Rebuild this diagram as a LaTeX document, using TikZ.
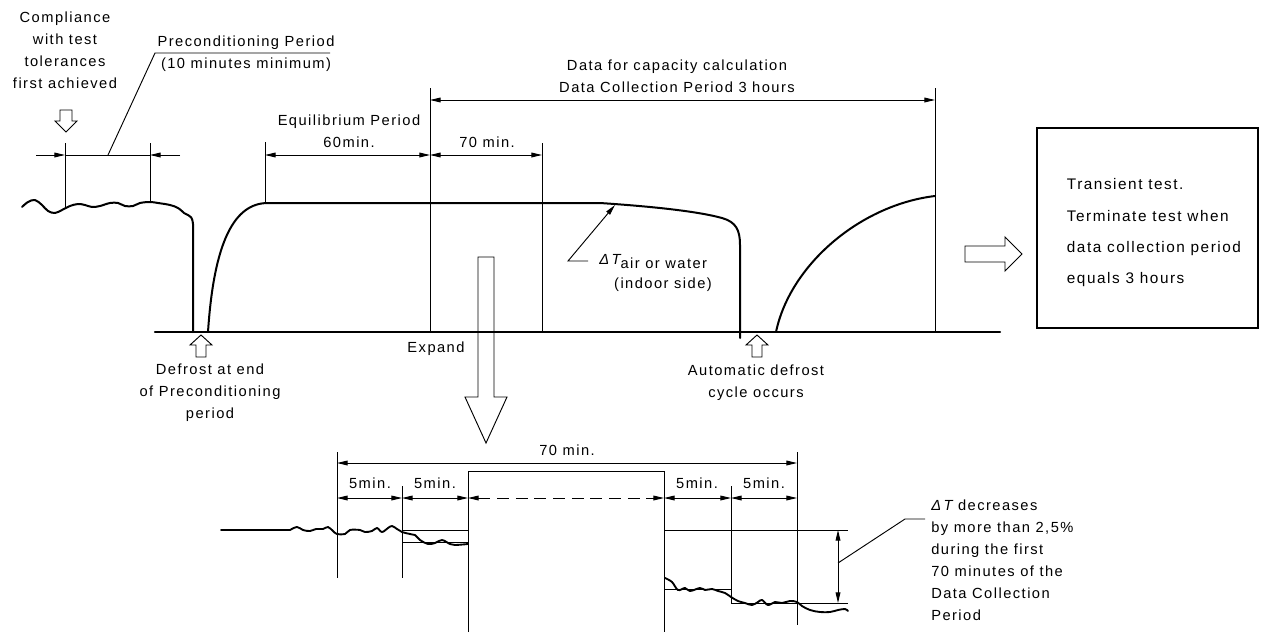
\documentclass[tikz,border=0pt]{standalone}
\usepackage{fontspec}
\setmainfont{Liberation Sans}[LetterSpace=10]
\usetikzlibrary{arrows.meta,calc,positioning}
\tikzset{
  axisline/.style={line width=1.6pt, line cap=round},
  trace/.style={line width=1.5pt, line cap=round, line join=round},
  fine/.style={line width=0.7pt},
  dim/.style={fine, {Triangle[length=8pt,width=3.6pt]}-{Triangle[length=8pt,width=3.6pt]}},
  dimend/.style={fine, -{Triangle[length=8pt,width=3.6pt]}},
  hollow/.style={line width=0.7pt, line join=miter},
  tnote/.style={font=\fontsize{11pt}{16.5pt}\selectfont, align=center, inner sep=0pt},
  boxtext/.style={font=\fontsize{11.5pt}{23.4pt}\selectfont, align=left, inner sep=0pt}
}
\begin{document}
\begin{tikzpicture}[x=0.75pt,y=-0.75pt]
\useasboundingbox (0,0) rectangle (1262,632);

% time axis
\coordinate (ax0) at (155,332);
\coordinate (ax1) at (1000,332);
\draw[axisline] (ax0) -- (ax1);

% delta T trace
\draw[trace] plot[smooth, tension=0.6] coordinates {(22,207) (28,202) (35,200) (42,205) (48,211) (55,213) (62,210) (70,206) (78,204) (85,205) (92,207) (100,206) (110,203) (118,203) (125,206) (133,206) (140,203) (150,202) (158,203) (170,205) (178,208) (184,213)} .. controls (192,217) .. (193,224) -- (193,332);
\draw[trace] (208,332) .. controls (214,240) and (235,203) .. (268,203) -- (600,203)
  .. controls (660,207) and (700,212) .. (722,218) .. controls (736,222) and (740,230) .. (740,245) -- (740,338);
\draw[trace] (776,332) .. controls (790,265) and (860,205) .. (935,196);

% extension lines
\coordinate (pc1) at (65,155);
\coordinate (pc2) at (150,155);
\coordinate (eq1) at (265,155);
\coordinate (eq2) at (430,155);
\coordinate (sv2) at (542,155);
\coordinate (dc1) at (430,100);
\coordinate (dc2) at (935,100);
\draw[fine] (65,143) -- (65,208);
\draw[fine] (150,143) -- (150,202);
\draw[fine] (265,142) -- (265,203);
\draw[fine] (430,88) -- (430,332);
\draw[fine] (542,143) -- (542,332);
\draw[fine] (935,88) -- (935,332);

% dimensions
\draw[dimend] (36,155) -- (pc1);
\draw[fine] (pc1) -- (pc2);
\draw[dimend] (180,155) -- (pc2);
\draw[dim] (eq1) -- (eq2);
\draw[dim] (eq2) -- (sv2);
\draw[dim] (dc1) -- (dc2);

% leaders
\draw[fine] (108,155) -- (155,53) -- (330,53);
\draw[fine, -{Triangle[length=8pt,width=3.6pt]}] (588,261) -- (568,261) -- (615,205);

% labels, upper chart
\node[tnote] (compliance) at (65,50) {Compliance\\with test\\tolerances\\first achieved};
\node[tnote] (precond) at (246,54) {Preconditioning Period\\(10 minutes minimum)};
\node[tnote] (equil) at (349,131) {Equilibrium Period\\60min.};
\node[tnote] (seventy) at (487,142) {70 min.};
\node[tnote] (datacap) at (677,76) {Data for capacity calculation\\Data Collection Period 3 hours};
\node[tnote, anchor=west] (dtair) at (599,262) {{\itshape Δ\,T}\raisebox{-3pt}{air or water}};
\node[tnote] (indoor) at (663,285) {(indoor side)};
\node[tnote] (expand) at (436,349) {Expand};
\node[tnote] (defrostend) at (210,393) {Defrost at end\\of Preconditioning\\period};
\node[tnote] (autodefrost) at (756,383) {Automatic defrost\\cycle occurs};

% hollow arrows
\draw[hollow] (60,110) -- (72,110) -- (72,121) -- (77,121) -- (66,132) -- (55,121) -- (60,121) -- cycle;
\draw[hollow] (201,335) -- (212,345) -- (206,345) -- (206,357) -- (196,357) -- (196,345) -- (190,345) -- cycle;
\draw[hollow] (757,335) -- (768,345) -- (762,345) -- (762,357) -- (752,357) -- (752,345) -- (746,345) -- cycle;
\draw[hollow] (478,257) -- (494,257) -- (494,397) -- (507,397) -- (486,443) -- (465,397) -- (478,397) -- cycle;
\draw[hollow] (965,246) -- (1005,246) -- (1005,237) -- (1022,254) -- (1005,271) -- (1005,262) -- (965,262) -- cycle;

% transient test box
\node[draw, line width=1.5pt, minimum width=165.75pt, minimum height=150pt] (termbox) at (1147.5,228) {};
\node[boxtext, anchor=west] (termtext) at ([xshift=23pt, yshift=-3.5pt]termbox.west)
  {Transient test.\\Terminate test when\\data collection period\\equals 3 hours};

% expanded detail
\coordinate (ex1) at (337,463);
\coordinate (ex2) at (797,463);
\draw[fine] (337,452) -- (337,578);
\draw[fine] (402,486) -- (402,578);
\draw[fine] (468,632) -- (468,471) -- (664,471) -- (664,632);
\draw[fine] (731,486) -- (731,603);
\draw[fine] (797,452) -- (797,625);
\draw[dim] (ex1) -- (ex2);
\draw[dim] (337,498) -- (402,498);
\draw[dim] (402,498) -- (468,498);
\draw[dim, dash pattern=on 9pt off 5pt] (468,498) -- (664,498);
\draw[dim] (664,498) -- (731,498);
\draw[dim] (731,498) -- (797,498);

% reference levels
\draw[fine] (402,530) -- (468,530);
\draw[fine] (402,542) -- (468,542);
\draw[fine] (664,530) -- (848,530);
\draw[fine] (664,589) -- (731,589);
\draw[fine] (731,603) -- (848,603);
\coordinate (dr1) at (838,530);
\coordinate (dr2) at (838,603);
\draw[dim] (dr1) -- (dr2);
\draw[fine] (838,563) -- (905,519) -- (925,519);

% detail traces
\draw[trace, line width=1.4pt] (221,530) -- (290,530) -- plot[smooth, tension=0.6] coordinates {(290,530) (297,527) (303,530) (310,531) (316,529) (323,529) (328,527) (333,531) (337,534) (345,534) (350,530) (360,530) (365,532) (372,531) (377,528) (382,532) (388,528) (392,526) (397,529) (402,532) (410,534) (415,535) (420,540) (428,544) (435,543) (442,540) (450,544) (455,545) (468,544)};
\draw[trace, line width=1.4pt] plot[smooth, tension=0.6] coordinates {(665,578) (672,582) (678,590) (685,588) (690,591) (700,588) (705,590) (712,589) (718,591) (725,593) (731,597) (738,601) (745,603) (752,605) (758,602) (762,600) (768,605) (775,602) (782,603) (790,601) (797,602) (802,606) (810,610) (820,612) (830,612) (838,610) (845,609) (848,611)};

% labels, detail
\node[tnote] (seventyb) at (567,450) {70 min.};
\node[tnote] (fivea) at (370,483) {5min.};
\node[tnote] (fiveb) at (435,483) {5min.};
\node[tnote] (fivec) at (697,483) {5min.};
\node[tnote] (fived) at (764,483) {5min.};
\node[tnote, anchor=north west, align=left] (dtdec) at (931,500)
  {{\itshape Δ\,T} decreases\\by more than 2,5\%\\during the first\\70 minutes of the\\Data Collection\\Period};
\end{tikzpicture}
\end{document}
